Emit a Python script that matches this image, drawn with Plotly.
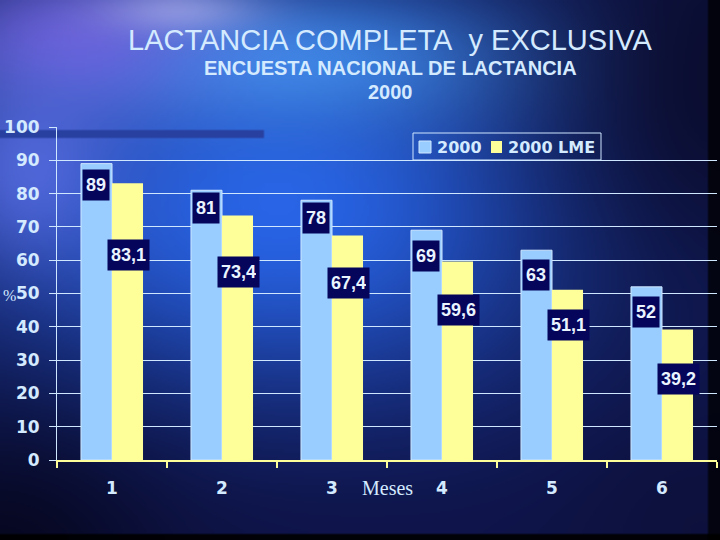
import base64, struct, zlib
import numpy as np
import plotly.graph_objects as go

# ---------------- data ----------------
meses = ["1", "2", "3", "4", "5", "6"]
series_names = ["2000", "2000 LME"]
lc_2000 = [89, 81, 78, 69, 63, 52]               # lactancia completa 2000
lme_2000 = [83.1, 73.4, 67.4, 59.6, 51.1, 39.2]  # lactancia materna exclusiva
lc_labels = ["89", "81", "78", "69", "63", "52"]
lme_labels = ["83,1", "73,4", "67,4", "59,6", "51,1", "39,2"]
y_ticks = [0, 10, 20, 30, 40, 50, 60, 70, 80, 90, 100]

# label placement style (pixel offsets below bar top)
lc_label_shift = [-21, -18, -18, -26, -25, -25]
lme_label_shift = [-72, -56, -47, -48, -35, -50]

W, H = 720, 540
ML, MR, MT, MB = 57, 3, 127, 80
PW, PH = W - ML - MR, H - MT - MB


def png_uri(arr):
    h, w, _ = arr.shape
    raw = b"".join(b"\x00" + arr[r].tobytes() for r in range(h))

    def chunk(t, d):
        c = struct.pack(">I", len(d)) + t + d
        return c + struct.pack(">I", zlib.crc32(t + d) & 0xFFFFFFFF)

    png = b"\x89PNG\r\n\x1a\n" + chunk(b"IHDR", struct.pack(">IIBBBBB", w, h, 8, 2, 0, 0, 0)) \
        + chunk(b"IDAT", zlib.compress(raw, 9)) + chunk(b"IEND", b"")
    return "data:image/png;base64," + base64.b64encode(png).decode()


# ---------------- background gradient image ----------------
def make_bg(w=360, h=270):
    sx = W / w
    xs = (np.arange(w) + 0.5) * sx
    ys = (np.arange(h) + 0.5) * sx
    X, Y = np.meshgrid(xs, ys)
    col = np.zeros((h, w, 3)) + np.array([15, 22, 80], float)

    def blob(cx, cy, rx, ry, c, s):
        nonlocal col
        wgt = s * np.exp(-(((X - cx) / rx) ** 2 + ((Y - cy) / ry) ** 2))
        col = col * (1 - wgt[..., None]) + np.array(c, float) * wgt[..., None]

    blob(280, 210, 300, 190, (40, 100, 230), 1.0)
    blob(290, 60, 250, 70, (70, 150, 245), 0.8)
    blob(70, 40, 130, 70, (125, 100, 230), 0.75)
    blob(30, 170, 90, 100, (95, 115, 235), 0.75)
    blob(180, 10, 80, 25, (205, 200, 250), 0.5)
    blob(720, 80, 180, 220, (10, 10, 40), 0.85)
    blob(360, 570, 450, 120, (15, 20, 72), 0.85)
    blob(0, 560, 170, 150, (5, 5, 25), 0.85)
    blob(700, 520, 150, 150, (12, 14, 50), 0.6)
    col[Y > 534] = col[Y > 534] * 0.1
    col[X > 708] = col[X > 708] * 0.25
    # decorative slide band at the top-left of the chart
    band = (Y > 130) & (Y < 138) & (X < 264)
    col[band] = np.array([40, 64, 160], float)
    return png_uri(np.clip(col, 0, 255).astype(np.uint8))


LIGHT = "#D4EAFF"
BLUE = "#99CCFF"
YELLOW = "#FFFF99"
NAVY = "#05055C"
LBL_FONT = "Liberation Sans, Arial, sans-serif"
BOLD_SANS = "DejaVu Sans, Verdana, sans-serif"

fig = go.Figure()
fig.add_trace(go.Bar(x=meses, y=lc_2000, name=series_names[0],
                     marker=dict(color=BLUE, line=dict(color="#CFE8FF", width=1))))
fig.add_trace(go.Bar(x=meses, y=lme_2000, name=series_names[1],
                     marker=dict(color=YELLOW, line=dict(width=0))))

bw_px = PW / len(meses) * (1 - 0.436) / 2
ann = []
for i, m in enumerate(meses):
    ann.append(dict(x=i, y=lc_2000[i], xref="x", yref="y", text="<b>%s</b>" % lc_labels[i],
                    showarrow=False, xshift=-bw_px / 2, yshift=lc_label_shift[i], bgcolor=NAVY,
                    borderpad=3, height=24, xanchor="center", yanchor="middle",
                    font=dict(family=LBL_FONT, size=18, color="#EAF4FF")))
    ann.append(dict(x=i, y=lme_2000[i], xref="x", yref="y", text="<b>%s</b>" % lme_labels[i],
                    showarrow=False, xshift=bw_px / 2 + 1, yshift=lme_label_shift[i], bgcolor=NAVY,
                    borderpad=3, height=24, xanchor="center", yanchor="middle",
                    font=dict(family=LBL_FONT, size=18, color="#EAF4FF")))


def px(xp):
    return (xp - ML) / PW


def py(yp):
    return (H - MB - yp) / PH


def txt(x, y, text, font, xanchor="center"):
    return dict(x=px(x), y=py(y), xref="paper", yref="paper", showarrow=False,
                xanchor=xanchor, yanchor="middle", text=text, font=font)


ann += [
    txt(390, 40, "LACTANCIA COMPLETA\u00a0 y EXCLUSIVA",
        dict(family="Liberation Sans, Arial, sans-serif", size=29, color=LIGHT)),
    txt(390, 68, "<b>ENCUESTA NACIONAL DE LACTANCIA</b>",
        dict(family="Liberation Sans, Arial, sans-serif", size=20, color=LIGHT)),
    txt(390, 92, "<b>2000</b>",
        dict(family="Liberation Sans, Arial, sans-serif", size=20, color=LIGHT)),
    txt(387, 488, "Meses",
        dict(family="Liberation Serif, Times New Roman, serif", size=20, color=LIGHT)),
    txt(9, 295, "%",
        dict(family="Liberation Serif, Times New Roman, serif", size=16, color=LIGHT)),
    # manual legend texts
    txt(435, 147, "<b>%s</b>" % series_names[0], dict(family=BOLD_SANS, size=16, color=LIGHT), "left"),
    txt(506, 147, "<b>%s</b>" % series_names[1], dict(family=BOLD_SANS, size=16, color=LIGHT), "left"),
]

shapes = [
    dict(type="rect", xref="paper", yref="paper", x0=px(413), x1=px(601), y0=py(160), y1=py(133),
         line=dict(color="#CFE6FF", width=1), fillcolor="rgba(0,0,0,0)", layer="above"),
    dict(type="rect", xref="paper", yref="paper", x0=px(419), x1=px(431), y0=py(153), y1=py(141),
         line=dict(color="#CFE8FF", width=1), fillcolor=BLUE, layer="above"),
    dict(type="rect", xref="paper", yref="paper", x0=px(491), x1=px(502), y0=py(153), y1=py(141),
         line=dict(width=0), fillcolor=YELLOW, layer="above"),
]

fig.update_layout(
    width=W, height=H,
    margin=dict(l=ML, r=MR, t=MT, b=MB),
    paper_bgcolor="#0E1446", plot_bgcolor="rgba(0,0,0,0)",
    barmode="group", bargap=0.436, bargroupgap=0,
    showlegend=False,
    annotations=ann,
    shapes=shapes,
    images=[
        dict(source=make_bg(), xref="paper", yref="paper", x=-ML / PW, y=1 + MT / PH,
             sizex=W / PW, sizey=H / PH, sizing="stretch", layer="below", xanchor="left", yanchor="top"),
    ],
    xaxis=dict(type="category", categoryorder="array", categoryarray=meses, range=[-0.5, 5.5],
               showline=True, linecolor=YELLOW, linewidth=2, tickson="boundaries",
               ticks="outside", ticklen=6, tickcolor=YELLOW, tickwidth=1.5,
               showgrid=False, ticklabelstandoff=12,
               tickfont=dict(family=BOLD_SANS, size=17, color=LIGHT, weight="bold")),
    yaxis=dict(range=[0, 100], tickvals=y_ticks, showline=True, linecolor="#CFE8FF", linewidth=1,
               ticks="outside", ticklen=7, tickcolor="#CFE8FF", tickwidth=1,
               showgrid=True, gridcolor="#CFE8FF", gridwidth=1, zeroline=False,
               ticklabelstandoff=6,
               tickfont=dict(family=BOLD_SANS, size=17, color=LIGHT, weight="bold")),
)

fig.write_html("out.html", config={"displayModeBar": False},
               post_script="document.body.style.margin='0';document.body.style.overflow='hidden';")
